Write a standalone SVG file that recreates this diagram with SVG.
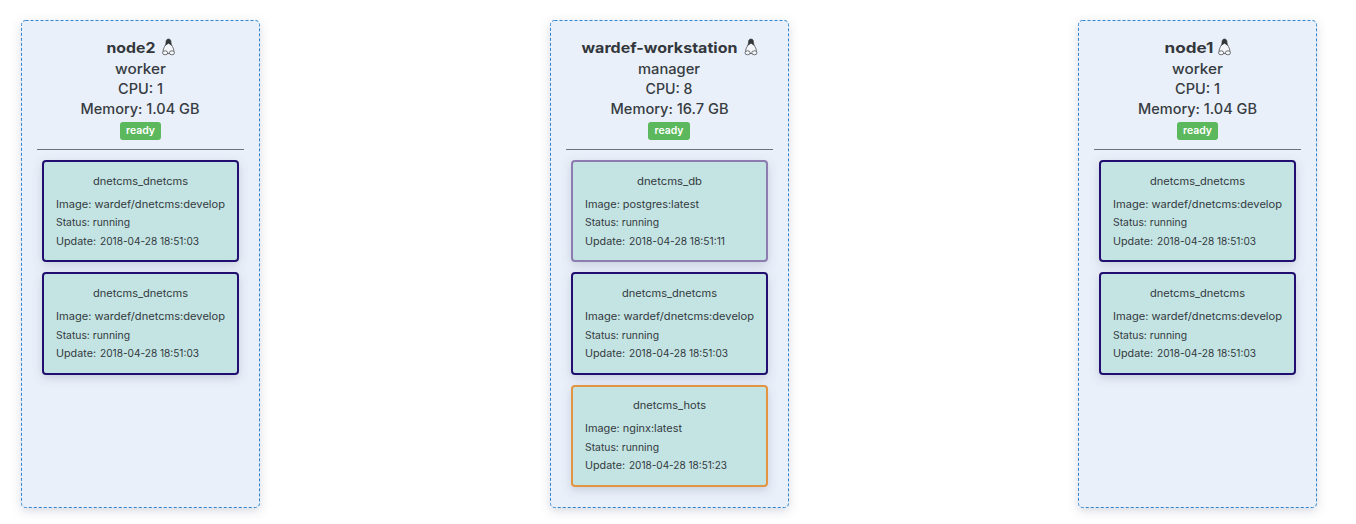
<svg xmlns="http://www.w3.org/2000/svg" width="1356" height="524" viewBox="0 0 1356 524">
<style>
text{font-family:"Inter","Noto Sans","Liberation Sans",sans-serif;fill:#33393f}
.h{font-size:14px;font-weight:500;text-anchor:middle;fill:#373c42}
.t{font-weight:700;font-size:14.5px;fill:#33373b}
.b{font-size:10px;font-weight:600;fill:#fff;text-anchor:middle}
.n{font-size:10.3px;text-anchor:middle}
.d{font-size:10.3px}
.node{fill:#e9f0f9;stroke:#2f85d0;stroke-width:1;stroke-dasharray:3 2}
.hr{stroke:#6f7276;stroke-width:1}
.badge{fill:#5cb85c}
.card{fill:#c3e4e2;stroke-width:2}
.blue{stroke:#22116f}.purple{stroke:#8c7cb0}.orange{stroke:#e39440}
.peng{fill:#f4f6fa;stroke:#3a3d40;stroke-width:.7}
</style>
<defs>
<filter id="s" x="-15%" y="-15%" width="130%" height="130%"><feDropShadow dx="0" dy="3" stdDeviation="5" flood-color="#5a6a8a" flood-opacity=".25"/></filter>
<g id="penguin"><path class="peng" d="M0-8C-2.200-8-2.600-6-2.500-4-2.500-2-5.500 1-5.500 4.500L-2.500 6.500H2.500L5.500 4.500C5.500 1 2.500-2 2.500-4 2.600-6 2.200-8 0-8Z"/><path d="M0-8C-2.200-8-2.600-6-2.500-4-2.500-3-3-2-3.500-1L0-3.500 3.500-1C3-2 2.500-3 2.500-4 2.600-6 2.200-8 0-8Z" fill="#34373a"/><ellipse class="peng" cx="-3.400" cy="5.800" rx="2.600" ry="2"/><ellipse class="peng" cx="3.400" cy="5.800" rx="2.600" ry="2"/></g>
</defs>

<g id="node-node2">
<rect class="node" x="21.500" y="20.500" width="238" height="487" rx="4" filter="url(#s)"/>
<text class="h t" x="131" y="53" textLength="49" lengthAdjust="spacingAndGlyphs">node2</text><use href="#penguin" x="168.500" y="47"/>
<text class="h" x="140.500" y="74" textLength="51" lengthAdjust="spacingAndGlyphs">worker</text>
<text class="h" x="140.500" y="94" textLength="45" lengthAdjust="spacingAndGlyphs">CPU: 1</text>
<text class="h" x="140" y="114" textLength="119" lengthAdjust="spacingAndGlyphs">Memory: 1.04 GB</text>
<rect class="badge" x="120" y="122" width="41" height="18" rx="3"/><text class="b" x="140.500" y="134" textLength="29" lengthAdjust="spacingAndGlyphs">ready</text>
<line class="hr" x1="37" y1="149.500" x2="244" y2="149.500"/>
</g>
<g id="task-node2-1">
<rect class="card blue" x="43" y="161" width="195" height="100" rx="3" filter="url(#s)"/>
<text class="n" x="140.500" y="185" textLength="95" lengthAdjust="spacingAndGlyphs">dnetcms_dnetcms</text>
<text class="d" x="56" y="208" textLength="169" lengthAdjust="spacingAndGlyphs">Image: wardef/dnetcms:develop</text>
<text class="d" x="56" y="226" textLength="74" lengthAdjust="spacingAndGlyphs">Status: running</text>
<text class="d" y="245"><tspan x="56" textLength="40" lengthAdjust="spacingAndGlyphs">Update:</tspan> <tspan x="100" textLength="99" lengthAdjust="spacingAndGlyphs">2018-04-28 18:51:03</tspan></text>
</g>
<g id="task-node2-2">
<rect class="card blue" x="43" y="273" width="195" height="101" rx="3" filter="url(#s)"/>
<text class="n" x="140.500" y="297" textLength="95" lengthAdjust="spacingAndGlyphs">dnetcms_dnetcms</text>
<text class="d" x="56" y="320" textLength="169" lengthAdjust="spacingAndGlyphs">Image: wardef/dnetcms:develop</text>
<text class="d" x="56" y="339" textLength="74" lengthAdjust="spacingAndGlyphs">Status: running</text>
<text class="d" y="357"><tspan x="56" textLength="40" lengthAdjust="spacingAndGlyphs">Update:</tspan> <tspan x="100" textLength="99" lengthAdjust="spacingAndGlyphs">2018-04-28 18:51:03</tspan></text>
</g>

<g id="node-wardef-workstation">
<rect class="node" x="550.500" y="20.500" width="238" height="487" rx="4" filter="url(#s)"/>
<text class="h t" x="659.500" y="53" textLength="156" lengthAdjust="spacingAndGlyphs">wardef-workstation</text><use href="#penguin" x="751" y="47"/>
<text class="h" x="669" y="74" textLength="62" lengthAdjust="spacingAndGlyphs">manager</text>
<text class="h" x="669" y="94" textLength="47" lengthAdjust="spacingAndGlyphs">CPU: 8</text>
<text class="h" x="669.500" y="114" textLength="118" lengthAdjust="spacingAndGlyphs">Memory: 16.7 GB</text>
<rect class="badge" x="648" y="122" width="42" height="18" rx="3"/><text class="b" x="669" y="134" textLength="29" lengthAdjust="spacingAndGlyphs">ready</text>
<line class="hr" x1="566" y1="149.500" x2="773" y2="149.500"/>
</g>
<g id="task-ws-db">
<rect class="card purple" x="572" y="161" width="195" height="100" rx="3" filter="url(#s)"/>
<text class="n" x="669.500" y="185" textLength="65" lengthAdjust="spacingAndGlyphs">dnetcms_db</text>
<text class="d" x="585" y="208" textLength="114" lengthAdjust="spacingAndGlyphs">Image: postgres:latest</text>
<text class="d" x="585" y="226" textLength="74" lengthAdjust="spacingAndGlyphs">Status: running</text>
<text class="d" y="245"><tspan x="585" textLength="40" lengthAdjust="spacingAndGlyphs">Update:</tspan> <tspan x="629" textLength="96" lengthAdjust="spacingAndGlyphs">2018-04-28 18:51:11</tspan></text>
</g>
<g id="task-ws-dnetcms">
<rect class="card blue" x="572" y="273" width="195" height="101" rx="3" filter="url(#s)"/>
<text class="n" x="669.500" y="297" textLength="95" lengthAdjust="spacingAndGlyphs">dnetcms_dnetcms</text>
<text class="d" x="585" y="320" textLength="169" lengthAdjust="spacingAndGlyphs">Image: wardef/dnetcms:develop</text>
<text class="d" x="585" y="339" textLength="74" lengthAdjust="spacingAndGlyphs">Status: running</text>
<text class="d" y="357"><tspan x="585" textLength="40" lengthAdjust="spacingAndGlyphs">Update:</tspan> <tspan x="629" textLength="99" lengthAdjust="spacingAndGlyphs">2018-04-28 18:51:03</tspan></text>
</g>
<g id="task-ws-hots">
<rect class="card orange" x="572" y="386" width="195" height="100" rx="3" filter="url(#s)"/>
<text class="n" x="669.500" y="409" textLength="73" lengthAdjust="spacingAndGlyphs">dnetcms_hots</text>
<text class="d" x="585" y="432" textLength="97" lengthAdjust="spacingAndGlyphs">Image: nginx:latest</text>
<text class="d" x="585" y="451" textLength="74" lengthAdjust="spacingAndGlyphs">Status: running</text>
<text class="d" y="469"><tspan x="585" textLength="40" lengthAdjust="spacingAndGlyphs">Update:</tspan> <tspan x="629" textLength="98" lengthAdjust="spacingAndGlyphs">2018-04-28 18:51:23</tspan></text>
</g>

<g id="node-node1">
<rect class="node" x="1078.500" y="20.500" width="238" height="487" rx="4" filter="url(#s)"/>
<text class="h t" x="1189" y="53" textLength="49" lengthAdjust="spacingAndGlyphs">node1</text><use href="#penguin" x="1224.500" y="47"/>
<text class="h" x="1197.500" y="74" textLength="51" lengthAdjust="spacingAndGlyphs">worker</text>
<text class="h" x="1197.500" y="94" textLength="45" lengthAdjust="spacingAndGlyphs">CPU: 1</text>
<text class="h" x="1197.500" y="114" textLength="119" lengthAdjust="spacingAndGlyphs">Memory: 1.04 GB</text>
<rect class="badge" x="1177" y="122" width="41" height="18" rx="3"/><text class="b" x="1197.500" y="134" textLength="29" lengthAdjust="spacingAndGlyphs">ready</text>
<line class="hr" x1="1094" y1="149.500" x2="1301" y2="149.500"/>
</g>
<g id="task-node1-1">
<rect class="card blue" x="1100" y="161" width="195" height="100" rx="3" filter="url(#s)"/>
<text class="n" x="1197.500" y="185" textLength="95" lengthAdjust="spacingAndGlyphs">dnetcms_dnetcms</text>
<text class="d" x="1113" y="208" textLength="169" lengthAdjust="spacingAndGlyphs">Image: wardef/dnetcms:develop</text>
<text class="d" x="1113" y="226" textLength="74" lengthAdjust="spacingAndGlyphs">Status: running</text>
<text class="d" y="245"><tspan x="1113" textLength="40" lengthAdjust="spacingAndGlyphs">Update:</tspan> <tspan x="1157" textLength="99" lengthAdjust="spacingAndGlyphs">2018-04-28 18:51:03</tspan></text>
</g>
<g id="task-node1-2">
<rect class="card blue" x="1100" y="273" width="195" height="101" rx="3" filter="url(#s)"/>
<text class="n" x="1197.500" y="297" textLength="95" lengthAdjust="spacingAndGlyphs">dnetcms_dnetcms</text>
<text class="d" x="1113" y="320" textLength="169" lengthAdjust="spacingAndGlyphs">Image: wardef/dnetcms:develop</text>
<text class="d" x="1113" y="339" textLength="74" lengthAdjust="spacingAndGlyphs">Status: running</text>
<text class="d" y="357"><tspan x="1113" textLength="40" lengthAdjust="spacingAndGlyphs">Update:</tspan> <tspan x="1157" textLength="99" lengthAdjust="spacingAndGlyphs">2018-04-28 18:51:03</tspan></text>
</g>
<g id="connectors"/>
</svg>
